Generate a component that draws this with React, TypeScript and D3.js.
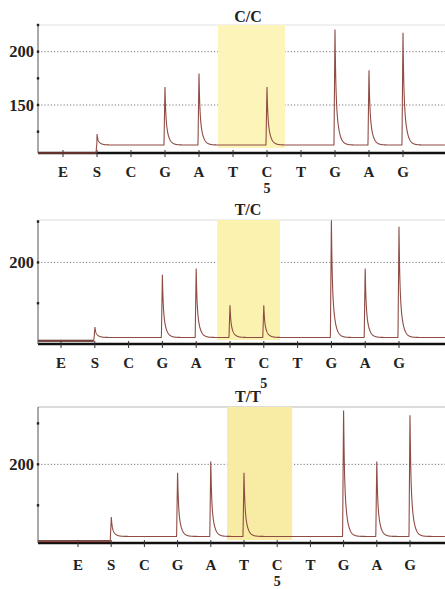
import React from "react";
import * as d3 from "d3";

// ---- Data ----
const dispensations = ["E", "S", "C", "G", "A", "T", "C", "T", "G", "A", "G"];
const genotypes = ["C/C", "T/C", "T/T"];
const positionLabel = "5";
const positionIndex = 6;

// peak apex values (signal units) per dispensation; 0 = no peak
const peaksCC = [0, 123, 0, 168, 181, 0, 168, 0, 223, 184, 220];
const peaksTC = [0, 161, 0, 193, 197, 174, 174, 0, 227, 197, 223];
const peaksTT = [0, 169, 0, 196, 203, 196, 0, 0, 235, 203, 232];

// baseline before / after the substrate (S) step
const baselineCC = [105, 112.5];
const baselineTC = [152, 154];
const baselineTT = [153, 156];

const yDomainCC = [105, 225];
const yDomainTC = [150, 226];
const yDomainTT = [152, 235];

const yTicksCC = [125, 150, 175, 200, 225];
const yTicksTC = [175, 200, 225];
const yTicksTT = [175, 200, 225];

const yLabelsCC = [150, 200];
const yLabelsTC = [200];
const yLabelsTT = [200];

// highlighted dispensation window (index units)
const highlightCC = [4.56, 6.53];
const highlightTC = [4.62, 6.48];
const highlightTT = [4.49, 6.45];

// ---- Layout ----
const W = 445;
const H = 589;
const axisX = 38;
const rightX = 445;

const panels = [
  { title: genotypes[0], peaks: peaksCC, base: baselineCC, yDomain: yDomainCC, yTicks: yTicksCC, yLabels: yLabelsCC, hl: highlightCC,
    top: 25, bottom: 153, xFirst: 63, xLast: 403, titleY: 22, labelY: 177, fiveY: 193, hlBottom: 148, topLine: "#e2e2e2", hlFill: "#fcf4b8" },
  { title: genotypes[1], peaks: peaksTC, base: baselineTC, yDomain: yDomainTC, yTicks: yTicksTC, yLabels: yLabelsTC, hl: highlightTC,
    top: 220, bottom: 344, xFirst: 61, xLast: 399, titleY: 215, labelY: 368, fiveY: 388, hlBottom: 340, topLine: "#dcdcdc", hlFill: "#fcf2b0" },
  { title: genotypes[2], peaks: peaksTT, base: baselineTT, yDomain: yDomainTT, yTicks: yTicksTT, yLabels: yLabelsTT, hl: highlightTT,
    top: 407, bottom: 543, xFirst: 78, xLast: 410, titleY: 402, labelY: 570, fiveY: 586, hlBottom: 540, topLine: "#b8b8b8", hlFill: "#f8eba4" },
];

const FONT = "'Liberation Serif', 'DejaVu Serif', serif";

function shape(d: number) {
  if (d < -0.03) return 0;
  if (d < 0) return (d + 0.03) / 0.03;
  return 0.45 * Math.exp(-d / 0.02) + 0.55 * Math.exp(-d / 0.08);
}

function Panel({ p }: { p: (typeof panels)[number] }) {
  const x = d3.scaleLinear().domain([0, dispensations.length - 1]).range([p.xFirst, p.xLast]);
  const y = d3.scaleLinear().domain(p.yDomain).range([p.bottom, p.top]);
  const t0 = x.invert(axisX);
  const t1 = x.invert(rightX);
  const pts: [number, number][] = [];
  const step = 0.004;
  for (let t = t0; t <= t1; t += step) {
    let v = t < 1 ? p.base[0] : p.base[1];
    p.peaks.forEach((h, i) => {
      if (h > 0) v += (h - p.base[1]) * shape(t - i);
    });
    pts.push([x(t), y(v)]);
  }
  const line = d3.line<[number, number]>().x((d) => d[0]).y((d) => d[1]);
  const hlX0 = x(p.hl[0]);
  const hlX1 = x(p.hl[1]);
  const preS = pts.filter((d) => d[0] <= x(1) - 1);
  return (
    <g>
      <line x1={axisX} x2={rightX} y1={p.top} y2={p.top} stroke={p.topLine} strokeWidth={1} />
      {p.yLabels.map((v) => (
        <line key={"g" + v} x1={axisX} x2={rightX} y1={y(v)} y2={y(v)} stroke="#777" strokeWidth={1} strokeDasharray="1.2 2" />
      ))}
      <rect x={hlX0} y={p.top} width={hlX1 - hlX0} height={p.hlBottom - p.top} fill={p.hlFill} />
      <line x1={axisX} x2={rightX} y1={p.bottom} y2={p.bottom} stroke="#111" strokeWidth={2.4} />
      {dispensations.map((_, i) => (
        <line key={"xt" + i} x1={x(i)} x2={x(i)} y1={p.bottom - 3} y2={p.bottom + 4} stroke="#333" strokeWidth={1} />
      ))}
      <path d={line(preS) || ""} fill="none" stroke="#3a1410" strokeWidth={2.2} />
      <path d={line(pts) || ""} fill="none" stroke="#8e4c44" strokeWidth={1.1} />
      <line x1={axisX} x2={axisX} y1={p.top} y2={p.bottom} stroke="#555" strokeWidth={1} />
      {p.yTicks.map((v) => (
        <rect key={"yt" + v} x={axisX - 1.2} y={y(v) - 1.2} width={2.4} height={2.4} fill="#222" />
      ))}
      {p.yLabels.map((v) => (
        <text key={"yl" + v} x={axisX - 4} y={y(v) + 5.5} textAnchor="end" fontFamily={FONT} fontWeight="bold" fontSize={16.5} fill="#222">
          {v}
        </text>
      ))}
      <text x={248} y={p.titleY} textAnchor="middle" fontFamily={FONT} fontWeight="bold" fontSize={16} fill="#222">
        {p.title}
      </text>
      {dispensations.map((s, i) => (
        <text key={"xl" + i} x={x(i)} y={p.labelY} textAnchor="middle" fontFamily={FONT} fontWeight="bold" fontSize={15} fill="#222">
          {s}
        </text>
      ))}
      <text x={x(positionIndex)} y={p.fiveY} textAnchor="middle" fontFamily={FONT} fontWeight="bold" fontSize={14} fill="#222">
        {positionLabel}
      </text>
    </g>
  );
}

export default function App() {
  return (
    <svg width={W} height={H} style={{ position: "absolute", left: 0, top: 0, background: "#fff" }}>
      <rect width={W} height={H} fill="#fff" />
      {panels.map((p, i) => (
        <Panel key={i} p={p} />
      ))}
    </svg>
  );
}
